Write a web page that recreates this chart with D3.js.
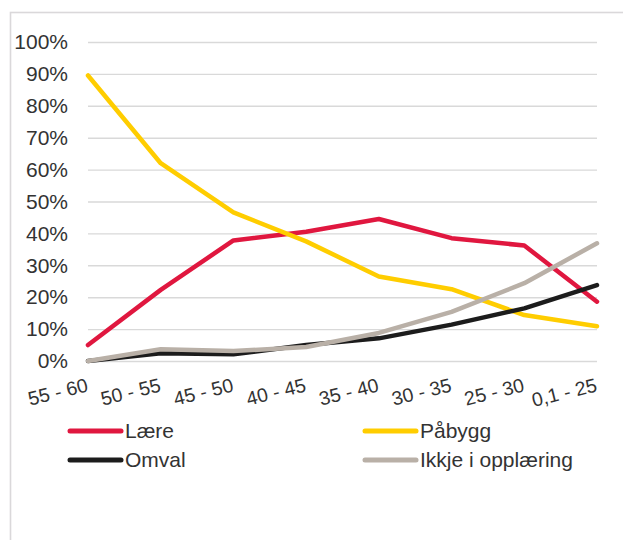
<!DOCTYPE html>
<html>
<head>
<meta charset="utf-8">
<script src="https://cdn.jsdelivr.net/npm/d3@7"></script>
<style>
  body { margin: 0; background: #fff; }
  svg { display: block; font-family: 'Liberation Sans', Arial, sans-serif; }
</style>
</head>
<body>
<svg id="chart" width="623" height="540"></svg>
<script>
const categories = ['55 - 60', '50 - 55', '45 - 50', '40 - 45', '35 - 40', '30 - 35', '25 - 30', '0,1 - 25'];
const laere = [0.050, 0.223, 0.378, 0.405, 0.445, 0.385, 0.362, 0.186];
const pabygg = [0.895, 0.620, 0.466, 0.375, 0.265, 0.225, 0.144, 0.109];
const omval = [0.000, 0.024, 0.021, 0.050, 0.071, 0.114, 0.165, 0.238];
const ikkje = [0.000, 0.037, 0.031, 0.044, 0.088, 0.154, 0.244, 0.369];
const yTicks = [0, 0.1, 0.2, 0.3, 0.4, 0.5, 0.6, 0.7, 0.8, 0.9, 1];

const series = [
  { name: 'Lære', values: laere, color: '#e0173f' },
  { name: 'Påbygg', values: pabygg, color: '#ffcd00' },
  { name: 'Omval', values: omval, color: '#1c1c1c' },
  { name: 'Ikkje i opplæring', values: ikkje, color: '#b9b0a7' }
];

const margin = { top: 42, left: 88 };
const width = 509;
const height = 319;
const textColor = '#333';

const svg = d3.select('#chart');

// outer frame, runs off the right and bottom edges
svg.append('rect')
  .attr('x', 10.5)
  .attr('y', 12.5)
  .attr('width', 700)
  .attr('height', 600)
  .attr('fill', 'none')
  .attr('stroke', '#dad8da')
  .attr('stroke-width', 1.6);

const g = svg.append('g').attr('transform', `translate(${margin.left},${margin.top})`);

const x = d3.scalePoint().domain(categories).range([0, width]);
const y = d3.scaleLinear().domain([0, 1]).range([height, 0]);

const yAxis = g.append('g')
  .call(d3.axisLeft(y).tickValues(yTicks).tickSize(-width).tickPadding(20).tickFormat(d3.format('.0%')));
yAxis.select('.domain').remove();
yAxis.selectAll('line').attr('stroke', '#d9d9d9').attr('stroke-width', 1.4);
yAxis.selectAll('text')
  .attr('fill', textColor)
  .style('font-size', '21px')
  .style('font-family', "'Liberation Sans', Arial, sans-serif");

g.append('g')
  .selectAll('text')
  .data(categories)
  .enter().append('text')
  .attr('transform', d => `translate(${x(d) + 1},${height + 30}) rotate(-14)`)
  .attr('text-anchor', 'end')
  .attr('fill', textColor)
  .style('font-size', '19.5px')
  .text(d => d);

const line = d3.line()
  .x((d, i) => x(categories[i]))
  .y(d => y(d));

g.selectAll('.series')
  .data(series)
  .enter().append('path')
  .attr('class', 'series')
  .attr('fill', 'none')
  .attr('stroke', d => d.color)
  .attr('stroke-width', 4.5)
  .attr('stroke-linejoin', 'round')
  .attr('stroke-linecap', 'round')
  .attr('d', d => line(d.values));

// legend, two columns
const legend = svg.append('g')
  .selectAll('g')
  .data(series)
  .enter().append('g')
  .attr('transform', (d, i) => `translate(${i % 2 === 0 ? 68 : 363},${i < 2 ? 431 : 460})`);

legend.append('line')
  .attr('x1', 2)
  .attr('x2', 53)
  .attr('stroke', d => d.color)
  .attr('stroke-width', 5)
  .attr('stroke-linecap', 'round');

legend.append('text')
  .attr('x', 57)
  .attr('dy', '0.35em')
  .attr('fill', textColor)
  .style('font-size', '21px')
  .text(d => d.name);
</script>
</body>
</html>
